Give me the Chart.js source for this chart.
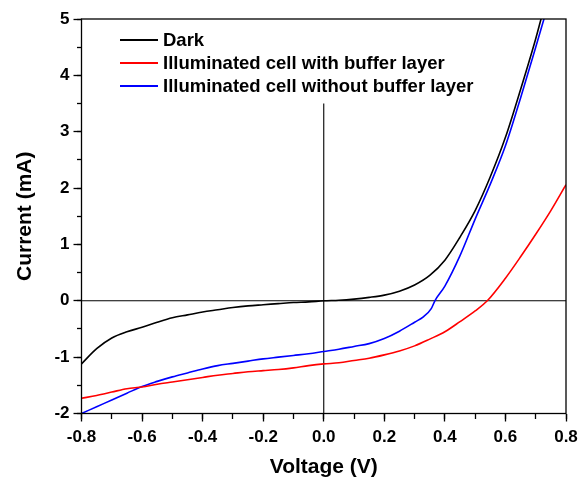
<!DOCTYPE html>
<html>
<head>
<meta charset="utf-8">
<script src="https://cdn.jsdelivr.net/npm/chart.js@4/dist/chart.umd.min.js"></script>
<style>
  html, body { margin: 0; padding: 0; background: #ffffff; }
  #wrap { width: 578px; height: 480px; }
</style>
</head>
<body>
<div id="wrap"><canvas id="c" width="578" height="480"></canvas></div>
<script>
// ---- data ----
const seriesNames = ['Dark', 'Illuminated cell with buffer layer', 'Illuminated cell without buffer layer'];

const darkV = [-0.8, -0.75, -0.7, -0.65, -0.6, -0.55, -0.5, -0.45, -0.4, -0.35, -0.3, -0.25, -0.2, -0.15, -0.1, -0.05, 0, 0.05, 0.1, 0.15, 0.2, 0.25, 0.3, 0.35, 0.4, 0.45, 0.5, 0.55, 0.6, 0.65, 0.7, 0.72];
const darkI = [-1.12, -0.85, -0.66, -0.55, -0.47, -0.38, -0.30, -0.25, -0.20, -0.16, -0.12, -0.09, -0.07, -0.05, -0.03, -0.02, 0, 0.01, 0.03, 0.06, 0.10, 0.17, 0.28, 0.45, 0.72, 1.13, 1.6, 2.2, 2.9, 3.75, 4.65, 5.05];

const bufV = [-0.8, -0.75, -0.7, -0.65, -0.6, -0.55, -0.5, -0.45, -0.4, -0.35, -0.3, -0.25, -0.2, -0.15, -0.1, -0.05, 0, 0.05, 0.1, 0.15, 0.2, 0.25, 0.3, 0.35, 0.4, 0.45, 0.5, 0.54, 0.6, 0.65, 0.7, 0.75, 0.8];
const bufI = [-1.73, -1.68, -1.62, -1.56, -1.53, -1.48, -1.44, -1.40, -1.36, -1.32, -1.29, -1.26, -1.24, -1.22, -1.19, -1.15, -1.12, -1.10, -1.06, -1.02, -0.96, -0.89, -0.80, -0.68, -0.55, -0.37, -0.18, 0, 0.4, 0.78, 1.18, 1.6, 2.06];

const noBufV = [-0.8, -0.75, -0.7, -0.65, -0.6, -0.55, -0.5, -0.45, -0.4, -0.35, -0.3, -0.25, -0.2, -0.15, -0.1, -0.05, 0, 0.05, 0.1, 0.15, 0.2, 0.25, 0.3, 0.33, 0.355, 0.367, 0.4, 0.45, 0.5, 0.55, 0.6, 0.65, 0.7, 0.73];
const noBufI = [-2.0, -1.88, -1.76, -1.64, -1.52, -1.43, -1.35, -1.28, -1.21, -1.15, -1.11, -1.07, -1.03, -1.0, -0.97, -0.94, -0.90, -0.86, -0.81, -0.76, -0.67, -0.54, -0.38, -0.28, -0.14, 0, 0.26, 0.8, 1.45, 2.07, 2.75, 3.6, 4.5, 5.05];

// zero reference lines (axis values)
const zeroHV = [-0.8, 0.8];
const zeroHI = [0, 0];
const zeroVV = [0, 0];
const zeroVI = [-2, 3.5];

const xTicks = [-0.8, -0.6, -0.4, -0.2, 0, 0.2, 0.4, 0.6, 0.8];
const xMinorTicks = [-0.8, -0.7, -0.6, -0.5, -0.4, -0.3, -0.2, -0.1, 0, 0.1, 0.2, 0.3, 0.4, 0.5, 0.6, 0.7, 0.8];
const yTicks = [-2, -1, 0, 1, 2, 3, 4, 5];
const yMinorTicks = [-2, -1.5, -1, -0.5, 0, 0.5, 1, 1.5, 2, 2.5, 3, 3.5, 4, 4.5, 5];

const xTitle = 'Voltage (V)';
const yTitle = 'Current (mA)';

// ---- build ----
const pts = (vs, is) => vs.map((v, k) => ({ x: v, y: is[k] }));
const FONT = '"Liberation Sans", Arial, Helvetica, sans-serif';

const curve = (label, color, data) => ({
  label, data, borderColor: color, backgroundColor: color,
  borderWidth: 1.6, pointRadius: 0, fill: false,
  cubicInterpolationMode: 'monotone', inLegend: true
});
const refLine = (data) => ({
  label: '', data, borderColor: '#000000', borderWidth: 1.1,
  pointRadius: 0, fill: false, tension: 0, inLegend: false
});

const frameAndLegend = {
  id: 'frameAndLegend',
  afterDraw(chart) {
    const { ctx, chartArea: a } = chart;
    ctx.save();
    ctx.strokeStyle = '#000000';
    ctx.lineWidth = 1.3;
    ctx.strokeRect(a.left, a.top, a.right - a.left, a.bottom - a.top);
    // legend inside the plot
    ctx.font = 'bold 18.5px ' + FONT;
    ctx.textBaseline = 'middle';
    ctx.textAlign = 'left';
    let row = 0;
    chart.data.datasets.forEach(ds => {
      if (!ds.inLegend) return;
      const y = 40 + row * 23;
      ctx.strokeStyle = ds.borderColor;
      ctx.lineWidth = 2;
      ctx.beginPath();
      ctx.moveTo(120, y);
      ctx.lineTo(158, y);
      ctx.stroke();
      ctx.fillStyle = '#000000';
      ctx.fillText(ds.label, 163, y + 1);
      row++;
    });
    ctx.restore();
  }
};

new Chart(document.getElementById('c'), {
  type: 'line',
  data: {
    datasets: [
      curve(seriesNames[0], '#000000', pts(darkV, darkI)),
      curve(seriesNames[1], '#ff0000', pts(bufV, bufI)),
      curve(seriesNames[2], '#0000ff', pts(noBufV, noBufI)),
      refLine(pts(zeroHV, zeroHI)),
      refLine(pts(zeroVV, zeroVI))
    ]
  },
  options: {
    responsive: false,
    animation: false,
    devicePixelRatio: 1,
    layout: { padding: { top: 19, right: 12, left: 0, bottom: 0 } },
    plugins: { legend: { display: false }, tooltip: { enabled: false } },
    scales: {
      x: {
        type: 'linear', position: 'bottom', min: -0.8, max: 0.8,
        afterBuildTicks: s => { s.ticks = xTicks.map(v => ({ value: v })); },
        afterFit: s => { s.height = 66.5; s.paddingLeft = 0; s.paddingRight = 0; },
        ticks: {
          autoSkip: false, maxRotation: 0, padding: 6, color: '#000000',
          font: { family: FONT, size: 17, weight: 'bold' },
          callback: v => Number(v).toFixed(1)
        },
        grid: { drawOnChartArea: false, tickLength: 8, tickColor: '#000000', tickWidth: 1.3 },
        border: { display: false },
        title: { display: true, text: xTitle, color: '#000000', padding: { top: 0, bottom: 0 },
                 font: { family: FONT, size: 21, weight: 'bold' } }
      },
      y: {
        type: 'linear', position: 'left', min: -2, max: 5,
        afterBuildTicks: s => { s.ticks = yTicks.map(v => ({ value: v })); },
        afterFit: s => { s.width = 81.5; s.paddingTop = 0; s.paddingBottom = 0; },
        ticks: {
          autoSkip: false, padding: 4, color: '#000000',
          font: { family: FONT, size: 17, weight: 'bold' },
          callback: v => String(v)
        },
        grid: { drawOnChartArea: false, tickLength: 8, tickColor: '#000000', tickWidth: 1.3 },
        border: { display: false },
        title: { display: true, text: yTitle, color: '#000000', padding: { top: 13, bottom: 0 },
                 font: { family: FONT, size: 21, weight: 'bold' } }
      },
      xMinor: {
        type: 'linear', position: { y: -2 }, min: -0.8, max: 0.8,
        afterBuildTicks: s => { s.ticks = xMinorTicks.map(v => ({ value: v })); },
        ticks: { display: false },
        grid: { drawOnChartArea: false, tickLength: 5, tickColor: '#000000', tickWidth: 1.3 },
        border: { display: false }
      },
      yMinor: {
        type: 'linear', position: { x: -0.8 }, min: -2, max: 5,
        afterBuildTicks: s => { s.ticks = yMinorTicks.map(v => ({ value: v })); },
        ticks: { display: false },
        grid: { drawOnChartArea: false, tickLength: 5, tickColor: '#000000', tickWidth: 1.3 },
        border: { display: false }
      }
    }
  },
  plugins: [frameAndLegend]
});
</script>
</body>
</html>
